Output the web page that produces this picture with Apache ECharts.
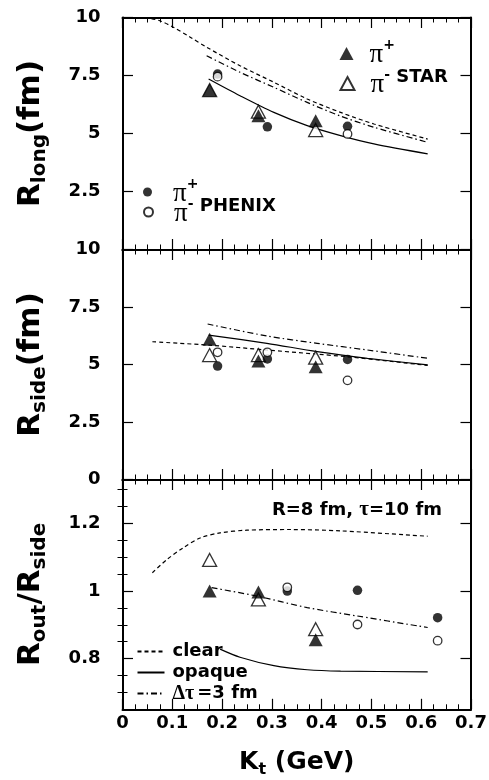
<!DOCTYPE html>
<html><head><meta charset="utf-8">
<script src="https://cdn.jsdelivr.net/npm/echarts@6/dist/echarts.min.js"></script>
<style>html,body{margin:0;padding:0;background:#fff}#c{width:489px;height:780px}</style>
</head><body><div id="c"></div><script>
// ---- tick labels ----
const ktTicks = [0, 0.1, 0.2, 0.3, 0.4, 0.5, 0.6, 0.7];
const rLongTicks = [2.5, 5, 7.5, 10];
const rSideTicks = [0, 2.5, 5, 7.5, 10];
const ratioTicks = [0.8, 1, 1.2];
const ratioMinorTicks = [0.7, 0.75, 0.85, 0.9, 0.95, 1.05, 1.1, 1.15, 1.25, 1.3];

// ---- data points ----
const starKt = [0.175, 0.273, 0.388];
const phenixKt = [0.191, 0.291, 0.452];
const phenixKtRatio = [0.331, 0.472, 0.633];

const starPipLong = [6.87, 5.77, 5.55];
const starPimLong = [6.87, 5.94, 5.15];
const phenixPipLong = [7.56, 5.29, 5.31];
const phenixPimLong = [7.45, null, 4.98];

const starPipSide = [6.10, 5.15, 4.90];
const starPimSide = [5.41, 5.41, 5.30];
const phenixPipSide = [4.93, 5.24, 5.22];
const phenixPimSide = [5.53, 5.53, 4.31];

const starPipRatio = [1.0, 0.997, 0.856];
const starPimRatio = [1.092, 0.975, 0.887];
const phenixPipRatio = [1.0, 1.002, 0.921];
const phenixPimRatio = [1.011, 0.901, 0.853];

// ---- model curves ----
const clearLongKt = [0.058, 0.075, 0.102, 0.136, 0.169, 0.236, 0.304, 0.371, 0.438, 0.505, 0.613];
const clearLong = [9.95, 9.86, 9.58, 9.15, 8.72, 7.92, 7.21, 6.49, 5.91, 5.41, 4.76];
const opaqueLongKt = [0.173, 0.236, 0.304, 0.371, 0.438, 0.505, 0.613];
const opaqueLong = [7.35, 6.63, 5.91, 5.34, 4.91, 4.55, 4.12];
const dtauLongKt = [0.169, 0.236, 0.304, 0.371, 0.438, 0.505, 0.613];
const dtauLong = [8.35, 7.64, 6.99, 6.34, 5.75, 5.27, 4.62];

const clearSideKt = [0.06, 0.175, 0.29, 0.39, 0.45, 0.613];
const clearSide = [5.99, 5.84, 5.63, 5.45, 5.34, 4.96];
const opaqueSideKt = [0.173, 0.29, 0.391, 0.492, 0.613];
const opaqueSide = [6.28, 5.92, 5.56, 5.27, 4.98];
const dtauSideKt = [0.171, 0.29, 0.391, 0.492, 0.613];
const dtauSide = [6.76, 6.24, 5.92, 5.63, 5.27];

const clearRatioKt = [0.06, 0.089, 0.122, 0.156, 0.196, 0.25, 0.337, 0.438, 0.613];
const clearRatio = [1.054, 1.093, 1.128, 1.157, 1.172, 1.18, 1.182, 1.178, 1.162];
const opaqueRatioKt = [0.196, 0.236, 0.304, 0.371, 0.438, 0.613];
const opaqueRatio = [0.828, 0.804, 0.779, 0.767, 0.763, 0.761];
const dtauRatioKt = [0.179, 0.27, 0.371, 0.472, 0.613];
const dtauRatio = [1.01, 0.985, 0.951, 0.926, 0.892];

// ---- build ----
const SANS = 'DejaVu Sans';
const SERIF = 'Liberation Serif';
const pairs = (xs, ys) => xs.map((x, i) => [x, ys[i]]);

const grids = [
  {left: 122.5, top: 17.5, width: 348.5, height: 232},
  {left: 122.5, top: 249.5, width: 348.5, height: 230},
  {left: 122.5, top: 479.5, width: 348.5, height: 229.8}
].map(g => Object.assign(g, {containLabel: false, outerBoundsMode: 'none'}));

const lineBlack = {color: '#000', width: 2};
const labelFont = {color: '#000', fontFamily: SANS, fontWeight: 'bold', fontSize: 18};

function xPair(gi, withLabels) {
  const base = {
    type: 'value', gridIndex: gi, min: 0, max: 0.7, interval: 0.1,
    axisLine: {show: true, onZero: false, lineStyle: lineBlack},
    axisTick: {show: true, inside: true, length: 10.5, lineStyle: {color: '#000', width: 1.2}},
    minorTick: {show: true, splitNumber: 4, length: 5, lineStyle: {color: '#000', width: 1}},
    splitLine: {show: false}, minorSplitLine: {show: false}
  };
  const bottom = Object.assign({}, base, {position: 'bottom',
    axisLabel: withLabels ? Object.assign({show: true, margin: 5}, labelFont) : {show: false}});
  if (withLabels) {
    bottom.name = '{k|K}{t|t}{k| (GeV)}';
    bottom.nameLocation = 'middle';
    bottom.nameGap = 41;
    bottom.nameTextStyle = {color: '#000', fontFamily: SANS, fontWeight: 'bold', fontSize: 25,
      rich: {
        k: {color: '#000', fontFamily: SANS, fontWeight: 'bold', fontSize: 25, lineHeight: 28, verticalAlign: 'top', padding: [0, 0, 4, 0]},
        t: {color: '#000', fontFamily: SANS, fontWeight: 'bold', fontSize: 16, lineHeight: 16, verticalAlign: 'bottom'}
      }};
  }
  const top = Object.assign({}, base, {position: 'top', axisLabel: {show: false}});
  return [bottom, top];
}

const nameRich = {
  m: {color: '#000', fontFamily: SANS, fontWeight: 'bold', fontSize: 31, lineHeight: 34, verticalAlign: 'top', padding: [0, 0, 5, 0]},
  s: {color: '#000', fontFamily: SANS, fontWeight: 'bold', fontSize: 20, lineHeight: 20, verticalAlign: 'bottom'}
};

function yPair(gi, min, max, ticks, name) {
  const base = {
    type: 'value', gridIndex: gi, min: min, max: max,
    axisLine: {show: true, onZero: false, lineStyle: lineBlack},
    axisTick: {show: true, inside: true, length: 10.5, customValues: ticks, lineStyle: {color: '#000', width: 1.2}},
    splitLine: {show: false}
  };
  const left = Object.assign({}, base, {position: 'left',
    axisLabel: Object.assign({show: true, margin: 22, customValues: ticks}, labelFont),
    name: name, nameLocation: 'middle', nameRotate: 90, nameGap: 73,
    nameTextStyle: {color: '#000', fontFamily: SANS, fontWeight: 'bold', fontSize: 31, rich: nameRich}});
  const right = Object.assign({}, base, {position: 'right', axisLabel: {show: false}});
  return [left, right];
}

function yMinor(gi, min, max, ticks) {
  const base = {
    type: 'value', gridIndex: gi, min: min, max: max,
    axisLine: {show: false},
    axisTick: {show: true, inside: true, length: 5, customValues: ticks, lineStyle: {color: '#000', width: 1}},
    axisLabel: {show: false}, splitLine: {show: false}
  };
  return [Object.assign({}, base, {position: 'left'}), Object.assign({}, base, {position: 'right'})];
}

const xAxis = [].concat(xPair(0, false), xPair(1, false), xPair(2, true));
const yAxis = [].concat(
  yPair(0, 0, 10, rLongTicks, '{m|R}{s|long}{m|(fm)}'),
  yPair(1, 0, 10, rSideTicks, '{m|R}{s|side}{m|(fm)}'),
  yPair(2, 0.65, 1.33, ratioTicks, '{m|R}{s|out}{m|/R}{s|side}'),
  yMinor(2, 0.65, 1.33, ratioMinorTicks)
);

const CLEAR_DASH = [4, 3];
const DTAU_DASH = [6, 3, 1.5, 3];

function lineSeries(p, name, xs, ys, dash) {
  return {
    type: 'line', name: name, xAxisIndex: 2 * p, yAxisIndex: 2 * p,
    data: pairs(xs, ys), symbol: 'none', showSymbol: false, smooth: 0.3,
    lineStyle: {color: '#000', width: 1.2, type: dash}, itemStyle: {color: '#000'},
    z: 2, silent: true
  };
}
function markSeries(p, name, xs, ys, symbol, filled, z) {
  return {
    type: 'scatter', name: name, xAxisIndex: 2 * p, yAxisIndex: 2 * p,
    data: pairs(xs, ys).filter(d => d[1] !== null),
    symbol: symbol, symbolSize: symbol === 'triangle' ? [14, 13] : (filled ? 9.5 : 8.5),
    itemStyle: filled ? {color: '#000', borderColor: '#000', borderWidth: 0}
                      : {color: '#fff', borderColor: '#000', borderWidth: 1.3},
    z: z, silent: true
  };
}

const panels = [
  {clear: [clearLongKt, clearLong], opaque: [opaqueLongKt, opaqueLong], dtau: [dtauLongKt, dtauLong],
   sp: starPipLong, sm: starPimLong, pk: phenixKt, pp: phenixPipLong, pm: phenixPimLong},
  {clear: [clearSideKt, clearSide], opaque: [opaqueSideKt, opaqueSide], dtau: [dtauSideKt, dtauSide],
   sp: starPipSide, sm: starPimSide, pk: phenixKt, pp: phenixPipSide, pm: phenixPimSide},
  {clear: [clearRatioKt, clearRatio], opaque: [opaqueRatioKt, opaqueRatio], dtau: [dtauRatioKt, dtauRatio],
   sp: starPipRatio, sm: starPimRatio, pk: phenixKtRatio, pp: phenixPipRatio, pm: phenixPimRatio}
];

const series = [];
panels.forEach((d, p) => {
  series.push(lineSeries(p, 'clear', d.clear[0], d.clear[1], CLEAR_DASH));
  series.push(lineSeries(p, 'opaque', d.opaque[0], d.opaque[1], 'solid'));
  series.push(lineSeries(p, 'dtau', d.dtau[0], d.dtau[1], DTAU_DASH));
  series.push(markSeries(p, 'piMinusStar', starKt, d.sm, 'triangle', false, 3));
  series.push(markSeries(p, 'piPlusStar', starKt, d.sp, 'triangle', true, 4));
  series.push(markSeries(p, 'piPlusPhenix', d.pk, d.pp, 'circle', true, 5));
  series.push(markSeries(p, 'piMinusPhenix', d.pk, d.pm, 'circle', false, 6));
});

const piRich = {
  p: {color: '#000', fontFamily: SERIF, fontSize: 27, lineHeight: 30, verticalAlign: 'bottom', padding: [0, 0, 0, 11]},
  q: {color: '#000', fontFamily: SERIF, fontSize: 27, lineHeight: 30, verticalAlign: 'bottom', padding: [0, 0, 0, 16]},
  s: {color: '#000', fontFamily: SANS, fontWeight: 'bold', fontSize: 14, lineHeight: 14, verticalAlign: 'top'},
  t: {color: '#000', fontFamily: SANS, fontWeight: 'bold', fontSize: 18, lineHeight: 14, verticalAlign: 'top'}
};
function markLegend(name, text, left, top, w, h) {
  return {
    data: [name], left: left, top: top, padding: 0, itemWidth: w, itemHeight: h,
    selectedMode: false, formatter: () => text,
    textStyle: {color: '#000', rich: piRich}
  };
}

const legend = [
  markLegend('piPlusStar', '{p|π}{s|+}', 339.5, 38.5, 14, 13),
  markLegend('piMinusStar', '{p|π}{s|-}{t| STAR}', 339.5, 68.5, 14, 13),
  markLegend('piPlusPhenix', '{q|π}{s|+}', 143, 177, 9, 9),
  markLegend('piMinusPhenix', '{q|π}{s|-}{t| PHENIX}', 143, 197, 9, 9),
  {
    data: ['clear', 'opaque', 'dtau'], orient: 'vertical', left: 136.5, top: 641.5, padding: 0,
    itemWidth: 27, itemHeight: 10, itemGap: 1, selectedMode: false,
    itemStyle: {opacity: 0},
    formatter: n => n === 'dtau' ? '{g|Δτ}{b|=3 fm}' : '{b|' + n + '}',
    textStyle: {color: '#000', fontFamily: SANS, fontWeight: 'bold', fontSize: 18, lineHeight: 20,
      rich: {
        b: {color: '#000', fontFamily: SANS, fontWeight: 'bold', fontSize: 18, lineHeight: 20, padding: [0, 0, 0, 3]},
        g: {color: '#000', fontFamily: SERIF, fontSize: 20, lineHeight: 20, padding: [0, 0, 0, 3]}
      }}
  }
];

const title = {
  text: '{a|R=8 fm, }{g|τ}{a|=10 fm}', right: 47, top: 499, padding: 0,
  textStyle: {rich: {
    a: {color: '#000', fontFamily: SANS, fontWeight: 'bold', fontSize: 18, lineHeight: 22},
    g: {color: '#000', fontFamily: SERIF, fontSize: 21, lineHeight: 22}
  }}
};

const chart = echarts.init(document.getElementById('c'), null, {renderer: 'canvas'});
chart.setOption({
  animation: false,
  backgroundColor: '#fff',
  grid: grids,
  xAxis: xAxis,
  yAxis: yAxis,
  legend: legend,
  title: title,
  series: series
});
</script></body></html>
